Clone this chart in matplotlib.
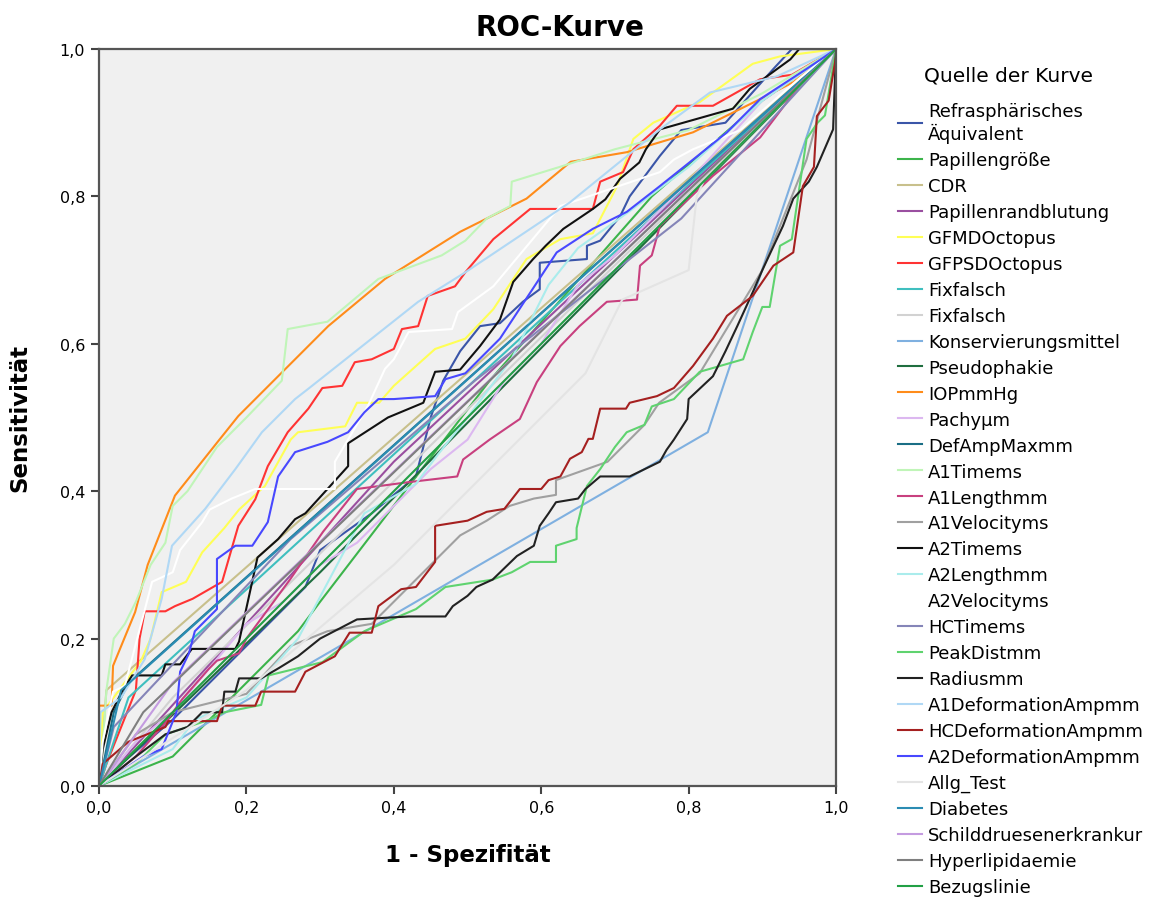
"""ROC-Kurve: viele Testvariablen gegen Bezugslinie."""
import matplotlib
matplotlib.use('Agg')
import matplotlib.pyplot as plt

plt.rcParams['font.family'] = ['DejaVu Sans']

# --- data (1 - Spezifitaet, Sensitivitaet) ---
refra_x = [0, 0.03, 0.1, 0.2, 0.28, 0.3, 0.37, 0.43, 0.45, 0.467, 0.49, 0.517, 0.544, 0.575, 0.598, 0.598,
           0.662, 0.662, 0.68, 0.707, 0.72, 0.761, 0.79, 0.85, 0.915, 0.94, 1]
refra_y = [0, 0.03, 0.09, 0.19, 0.27, 0.32, 0.37, 0.42, 0.5, 0.55, 0.59, 0.624, 0.628, 0.657, 0.674, 0.71,
           0.715, 0.733, 0.74, 0.773, 0.8, 0.855, 0.89, 0.9, 0.973, 1.0, 1.0]

papgr_x = [0, 0.1, 0.27, 0.3, 0.53, 0.75, 0.9, 1]
papgr_y = [0, 0.04, 0.21, 0.25, 0.55, 0.8, 0.93, 1]

cdr_x = [0, 0.01, 1]
cdr_y = [0, 0.13, 1]

paprand_x = [0, 0.4, 1]
paprand_y = [0, 0.44, 1]

gfmd_x = [0, 0.005, 0.057, 0.07, 0.085, 0.118, 0.14, 0.17, 0.19, 0.225, 0.26, 0.27, 0.334, 0.35, 0.38, 0.40,
          0.456, 0.497, 0.535, 0.58, 0.626, 0.67, 0.703, 0.725, 0.752, 0.815, 0.887, 0.924, 1]
gfmd_y = [0, 0.1, 0.17, 0.2, 0.263, 0.277, 0.317, 0.35, 0.375, 0.407, 0.47, 0.48, 0.488, 0.52, 0.52, 0.543,
          0.593, 0.607, 0.647, 0.715, 0.742, 0.75, 0.814, 0.878, 0.9, 0.928, 0.98, 0.99, 1]

gfpsd_x = [0, 0.01, 0.05, 0.055, 0.062, 0.09, 0.103, 0.127, 0.167, 0.18, 0.189, 0.212, 0.229, 0.256, 0.284,
           0.303, 0.33, 0.347, 0.37, 0.40, 0.411, 0.433, 0.446, 0.483, 0.497, 0.535, 0.585, 0.67, 0.68, 0.711,
           0.725, 0.761, 0.784, 0.833, 0.897, 0.94, 1]
gfpsd_y = [0, 0.03, 0.13, 0.2, 0.237, 0.237, 0.244, 0.254, 0.277, 0.322, 0.353, 0.389, 0.434, 0.48, 0.512,
           0.54, 0.543, 0.575, 0.579, 0.593, 0.62, 0.624, 0.665, 0.678, 0.697, 0.742, 0.783, 0.783, 0.82, 0.833,
           0.864, 0.896, 0.923, 0.923, 0.959, 0.965, 1]

fix1_x = [0, 0.04, 1]
fix1_y = [0, 0.12, 1]

fix2_x = [0, 0.1, 1]
fix2_y = [0, 0.12, 1]

konserv_x = [0, 0.826, 1]
konserv_y = [0, 0.48, 1]

pseudo_x = [0, 0.3, 1]
pseudo_y = [0, 0.29, 1]

iop_x = [0, 0, 0.017, 0.019, 0.049, 0.066, 0.103, 0.161, 0.189, 0.212, 0.311, 0.388, 0.49, 0.58, 0.64,
         0.716, 0.806, 0.897, 0.942, 1]
iop_y = [0, 0.109, 0.109, 0.163, 0.236, 0.30, 0.394, 0.467, 0.502, 0.525, 0.624, 0.688, 0.752, 0.797, 0.847,
         0.86, 0.887, 0.932, 0.955, 1]

pachy_x = [0, 0.05, 0.1, 0.15, 0.2, 0.25, 0.3, 0.35, 0.4, 0.45, 0.5, 0.55, 0.6, 0.65, 0.7, 0.76, 0.8, 0.9, 1]
pachy_y = [0, 0.06, 0.1, 0.16, 0.22, 0.25, 0.3, 0.33, 0.38, 0.43, 0.47, 0.55, 0.6, 0.68, 0.72, 0.78, 0.82,
           0.93, 1]

defamp_x = [0, 0.02, 0.04, 1]
defamp_y = [0, 0.1, 0.14, 1]

a1time_x = [0, 0.005, 0.01, 0.02, 0.035, 0.05, 0.07, 0.09, 0.1, 0.12, 0.16, 0.2, 0.248, 0.256, 0.31, 0.379,
            0.465, 0.497, 0.526, 0.558, 0.56, 0.625, 0.70, 0.8, 0.9, 1]
a1time_y = [0, 0.05, 0.13, 0.2, 0.22, 0.25, 0.3, 0.33, 0.38, 0.4, 0.46, 0.5, 0.55, 0.62, 0.63, 0.688,
            0.72, 0.74, 0.77, 0.787, 0.82, 0.84, 0.864, 0.89, 0.94, 1]

a1len_x = [0, 0.05, 0.091, 0.113, 0.149, 0.16, 0.19, 0.2, 0.259, 0.304, 0.35, 0.418, 0.486, 0.494, 0.53,
           0.571, 0.594, 0.626, 0.652, 0.689, 0.73, 0.734, 0.75, 0.761, 0.833, 0.897, 0.95, 1]
a1len_y = [0, 0.04, 0.087, 0.118, 0.159, 0.17, 0.18, 0.2, 0.28, 0.345, 0.403, 0.412, 0.42, 0.443, 0.47,
           0.498, 0.548, 0.597, 0.624, 0.657, 0.66, 0.706, 0.72, 0.76, 0.828, 0.88, 0.95, 1]

a1vel_x = [0, 0.05, 0.1, 0.2, 0.26, 0.31, 0.37, 0.43, 0.47, 0.49, 0.526, 0.557, 0.59, 0.62, 0.62, 0.662,
           0.69, 0.71, 0.74, 0.76, 0.815, 0.9, 0.96, 1]
a1vel_y = [0, 0.07, 0.1, 0.125, 0.19, 0.21, 0.22, 0.28, 0.32, 0.34, 0.36, 0.38, 0.39, 0.395, 0.415, 0.43,
           0.44, 0.46, 0.49, 0.52, 0.56, 0.7, 0.85, 1]

a2time_x = [0, 0.005, 0.017, 0.032, 0.045, 0.085, 0.09, 0.11, 0.126, 0.185, 0.19, 0.215, 0.243, 0.266, 0.28,
            0.31, 0.338, 0.338, 0.392, 0.44, 0.456, 0.49, 0.517, 0.544, 0.562, 0.589, 0.606, 0.63, 0.67,
            0.687, 0.707, 0.733, 0.742, 0.761, 0.86, 0.883, 0.938, 0.95, 1]
a2time_y = [0, 0.05, 0.1, 0.13, 0.15, 0.15, 0.165, 0.165, 0.186, 0.186, 0.196, 0.31, 0.335, 0.362, 0.37,
            0.403, 0.434, 0.465, 0.5, 0.52, 0.562, 0.565, 0.597, 0.633, 0.684, 0.715, 0.733, 0.756, 0.783,
            0.796, 0.824, 0.846, 0.864, 0.891, 0.919, 0.946, 0.986, 1.0, 1.0]

a2len_x = [0, 0.04, 0.1, 0.13, 0.2, 0.27, 0.36, 0.43, 0.46, 0.5, 0.56, 0.61, 0.65, 0.72, 0.8, 0.9, 1]
a2len_y = [0, 0.02, 0.05, 0.09, 0.12, 0.2, 0.37, 0.41, 0.45, 0.5, 0.58, 0.68, 0.73, 0.78, 0.84, 0.93, 1]

a2vel_x = [0, 0.005, 0.019, 0.035, 0.072, 0.1, 0.11, 0.14, 0.15, 0.18, 0.212, 0.32, 0.32, 0.365, 0.388, 0.40,
           0.42, 0.479, 0.487, 0.535, 0.626, 0.761, 0.78, 0.806, 0.87, 0.95, 1]
a2vel_y = [0, 0.06, 0.128, 0.136, 0.277, 0.29, 0.32, 0.358, 0.375, 0.39, 0.403, 0.403, 0.44, 0.516, 0.566,
           0.579, 0.616, 0.62, 0.643, 0.678, 0.787, 0.833, 0.85, 0.864, 0.89, 0.96, 1]

hctime_x = [0, 0.02, 0.26, 0.51, 0.79, 1]
hctime_y = [0, 0.08, 0.335, 0.55, 0.77, 1]

peak_x = [0, 0.05, 0.09, 0.15, 0.17, 0.22, 0.23, 0.303, 0.36, 0.43, 0.47, 0.534, 0.56, 0.585, 0.62, 0.62,
          0.648, 0.648, 0.662, 0.68, 0.7, 0.716, 0.74, 0.75, 0.78, 0.815, 0.874, 0.887, 0.9, 0.91, 0.924,
          0.94, 0.96, 0.975, 0.985, 1]
peak_y = [0, 0.03, 0.07, 0.09, 0.1, 0.11, 0.15, 0.168, 0.21, 0.24, 0.27, 0.28, 0.29, 0.304, 0.304, 0.326,
          0.335, 0.35, 0.407, 0.43, 0.46, 0.48, 0.49, 0.515, 0.525, 0.562, 0.579, 0.616, 0.65, 0.65, 0.733,
          0.742, 0.878, 0.9, 0.91, 1]

radius_x = [0, 0.05, 0.09, 0.12, 0.14, 0.167, 0.17, 0.185, 0.19, 0.22, 0.244, 0.27, 0.3, 0.35, 0.42, 0.47,
            0.48, 0.5, 0.512, 0.534, 0.567, 0.59, 0.598, 0.61, 0.62, 0.65, 0.66, 0.68, 0.72, 0.761, 0.77,
            0.78, 0.798, 0.8, 0.833, 0.85, 0.866, 0.887, 0.9, 0.928, 0.942, 0.963, 0.974, 0.996, 1]
radius_y = [0, 0.04, 0.07, 0.08, 0.1, 0.1, 0.128, 0.128, 0.146, 0.146, 0.16, 0.176, 0.2, 0.226, 0.23, 0.23,
            0.244, 0.258, 0.27, 0.28, 0.312, 0.326, 0.353, 0.37, 0.385, 0.39, 0.403, 0.42, 0.42, 0.44, 0.456,
            0.47, 0.498, 0.525, 0.556, 0.59, 0.624, 0.67, 0.7, 0.76, 0.797, 0.82, 0.84, 0.891, 1]

a1def_x = [0, 0.002, 0.03, 0.062, 0.085, 0.099, 0.144, 0.185, 0.221, 0.266, 0.284, 0.433, 0.497, 0.639,
           0.761, 0.829, 0.92, 1]
a1def_y = [0, 0.1, 0.12, 0.172, 0.254, 0.326, 0.376, 0.43, 0.48, 0.525, 0.539, 0.657, 0.697, 0.792, 0.891,
           0.941, 0.963, 1]

hcdef_x = [0, 0.005, 0.04, 0.09, 0.094, 0.16, 0.167, 0.212, 0.22, 0.266, 0.28, 0.32, 0.34, 0.37, 0.379,
           0.41, 0.43, 0.456, 0.456, 0.5, 0.526, 0.55, 0.571, 0.6, 0.61, 0.626, 0.639, 0.655, 0.664, 0.67,
           0.68, 0.715, 0.72, 0.757, 0.78, 0.806, 0.833, 0.852, 0.887, 0.915, 0.942, 0.955, 0.97, 0.974,
           0.99, 1.0, 1.0]
hcdef_y = [0, 0.03, 0.06, 0.08, 0.088, 0.088, 0.109, 0.109, 0.128, 0.128, 0.155, 0.176, 0.208, 0.208, 0.244,
           0.267, 0.27, 0.304, 0.353, 0.36, 0.372, 0.376, 0.403, 0.403, 0.415, 0.42, 0.444, 0.453, 0.471,
           0.471, 0.512, 0.512, 0.52, 0.529, 0.54, 0.57, 0.607, 0.638, 0.665, 0.706, 0.724, 0.814, 0.84,
           0.909, 0.93, 0.99, 1.0]

a2def_x = [0, 0.03, 0.06, 0.085, 0.105, 0.11, 0.122, 0.13, 0.16, 0.16, 0.185, 0.208, 0.229, 0.243, 0.266,
           0.31, 0.338, 0.36, 0.379, 0.40, 0.456, 0.47, 0.497, 0.544, 0.621, 0.67, 0.716, 0.761, 0.806, 0.852,
           0.897, 0.963, 1]
a2def_y = [0, 0.02, 0.04, 0.05, 0.1, 0.155, 0.18, 0.21, 0.24, 0.308, 0.326, 0.326, 0.358, 0.42, 0.453,
           0.467, 0.48, 0.507, 0.525, 0.525, 0.529, 0.552, 0.56, 0.607, 0.724, 0.756, 0.779, 0.814, 0.85,
           0.887, 0.932, 0.975, 1]

allg_x = [0, 0.2, 0.4, 0.5, 0.6, 0.66, 0.71, 0.8, 0.811, 0.82, 0.9, 1]
allg_y = [0, 0.13, 0.3, 0.4, 0.5, 0.56, 0.66, 0.7, 0.8, 0.82, 0.9, 1]

diab_x = [0, 0.03, 1]
diab_y = [0, 0.13, 1]

schild_x = [0, 0.1, 1]
schild_y = [0, 0.14, 1]

hyper_x = [0, 0.06, 1]
hyper_y = [0, 0.1, 1]

bezug_x = [0, 1]
bezug_y = [0, 1]

series = [
    ('Refrasphärisches\nÄquivalent', refra_x, refra_y, '#3a55a8'),
    ('Papillengröße', papgr_x, papgr_y, '#3cb44b'),
    ('CDR', cdr_x, cdr_y, '#c8c08c'),
    ('Papillenrandblutung', paprand_x, paprand_y, '#9a4fa0'),
    ('GFMDOctopus', gfmd_x, gfmd_y, '#ffff55'),
    ('GFPSDOctopus', gfpsd_x, gfpsd_y, '#ff3333'),
    ('Fixfalsch', fix1_x, fix1_y, '#3fbfbf'),
    ('Fixfalsch', fix2_x, fix2_y, '#d2d2d2'),
    ('Konservierungsmittel', konserv_x, konserv_y, '#7fb0e0'),
    ('Pseudophakie', pseudo_x, pseudo_y, '#1f6e3f'),
    ('IOPmmHg', iop_x, iop_y, '#ff8c1a'),
    ('Pachyµm', pachy_x, pachy_y, '#dcb8f0'),
    ('DefAmpMaxmm', defamp_x, defamp_y, '#1a6e85'),
    ('A1Timems', a1time_x, a1time_y, '#c0f5b8'),
    ('A1Lengthmm', a1len_x, a1len_y, '#c8407f'),
    ('A1Velocityms', a1vel_x, a1vel_y, '#a0a0a0'),
    ('A2Timems', a2time_x, a2time_y, '#111111'),
    ('A2Lengthmm', a2len_x, a2len_y, '#aaecec'),
    ('A2Velocityms', a2vel_x, a2vel_y, '#ffffff'),
    ('HCTimems', hctime_x, hctime_y, '#8585b8'),
    ('PeakDistmm', peak_x, peak_y, '#5fd36f'),
    ('Radiusmm', radius_x, radius_y, '#222222'),
    ('A1DeformationAmpmm', a1def_x, a1def_y, '#b0d8f5'),
    ('HCDeformationAmpmm', hcdef_x, hcdef_y, '#a52020'),
    ('A2DeformationAmpmm', a2def_x, a2def_y, '#4848ff'),
    ('Allg_Test', allg_x, allg_y, '#e4e4e4'),
    ('Diabetes', diab_x, diab_y, '#2b8cb3'),
    ('Schilddruesenerkrankur', schild_x, schild_y, '#c49be0'),
    ('Hyperlipidaemie', hyper_x, hyper_y, '#7f7f7f'),
    ('Bezugslinie', bezug_x, bezug_y, '#22a045'),
]

ticks = [0.0, 0.2, 0.4, 0.6, 0.8, 1.0]
tick_labels = ['0,0', '0,2', '0,4', '0,6', '0,8', '1,0']

fig = plt.figure(figsize=(11.61, 9.03), dpi=100)
ax = fig.add_axes([0.0853, 0.1285, 0.6348, 0.8161])
ax.set_facecolor('#f0f0f0')

for label, xs, ys, color in series:
    ax.plot(xs, ys, color=color, linewidth=1.5, label=label)

ax.set_xlim(0, 1)
ax.set_ylim(0, 1)
ax.set_xticks(ticks)
ax.set_yticks(ticks)
ax.set_xticklabels(tick_labels, fontsize=11.5)
ax.set_yticklabels(tick_labels, fontsize=11.5)
ax.tick_params(direction='out', length=6, width=1.5, color='#444444', pad=4)
for sp in ax.spines.values():
    sp.set_color('#555555')
    sp.set_linewidth(1.6)

fig.text(560 / 1161, 1 - 28 / 903, 'ROC-Kurve', fontsize=20, fontweight='bold',
         ha='center', va='center')
ax.set_xlabel('1 - Spezifität', fontsize=16.5, fontweight='bold', labelpad=20)
ax.set_ylabel('Sensitivität', fontsize=16.5, fontweight='bold', labelpad=20)

fig.text(1008 / 1161, 1 - 76 / 903, 'Quelle der Kurve', fontsize=14.5,
         ha='center', va='center')
leg = fig.legend(loc='upper left', bbox_to_anchor=(898 / 1161, 1 - 103 / 903), frameon=False,
                 fontsize=13, borderpad=0, borderaxespad=0,
                 handlelength=1.35, handletextpad=0.33, labelspacing=0.44)

fig.savefig('out.png', dpi=100)
